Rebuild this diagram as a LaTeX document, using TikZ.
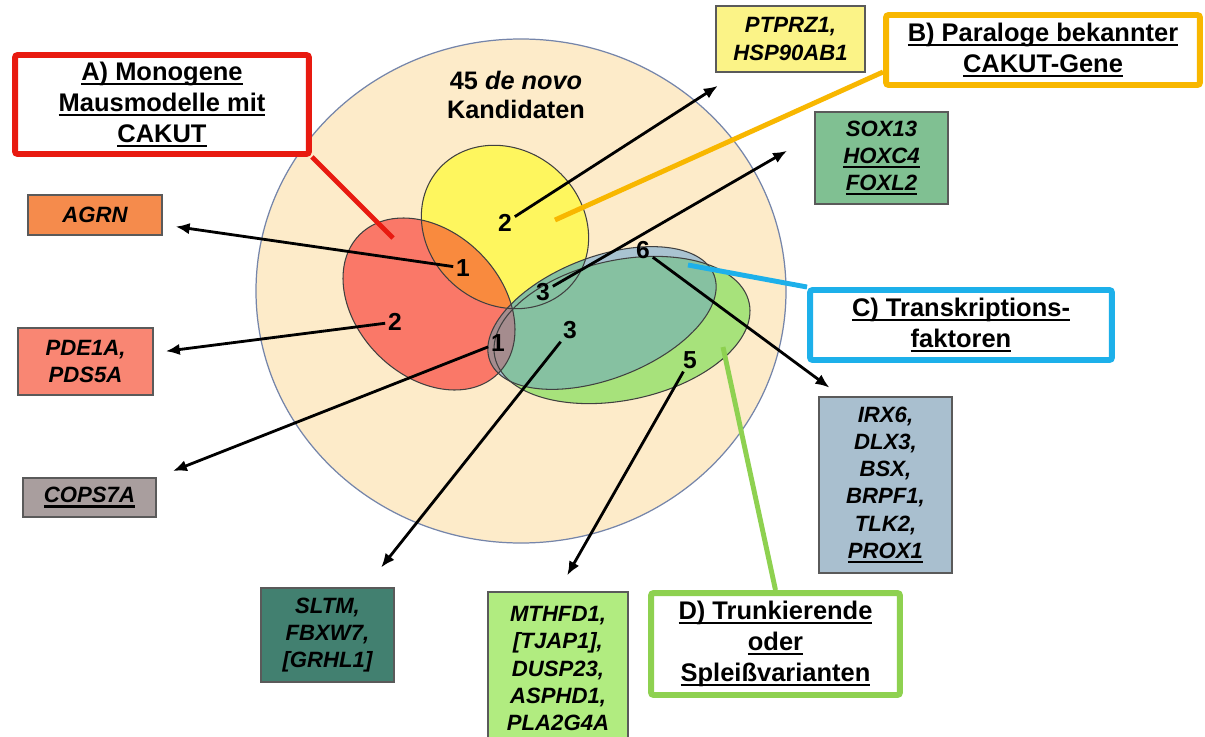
\documentclass[tikz,border=0pt]{standalone}
\usepackage{fontspec}
\setmainfont{Liberation Sans}
\usetikzlibrary{arrows.meta}

\definecolor{beige}{HTML}{FDEBC9}
\definecolor{circline}{HTML}{7585AA}
\definecolor{redell}{HTML}{FA7868}
\definecolor{yellell}{HTML}{FEF65E}
\definecolor{orangeov}{HTML}{F98A3E}
\definecolor{greenell}{HTML}{A7E27B}
\definecolor{blueell}{HTML}{A9C3D1}
\definecolor{tealov}{HTML}{86C1A1}
\definecolor{mauveov}{HTML}{A58C8E}
\definecolor{agrnc}{HTML}{F58B4C}
\definecolor{pdec}{HTML}{F98673}
\definecolor{copsc}{HTML}{A99E9E}
\definecolor{ptprzc}{HTML}{FBF387}
\definecolor{soxc}{HTML}{80C092}
\definecolor{irxc}{HTML}{A9BFCF}
\definecolor{sltmc}{HTML}{428070}
\definecolor{mthfdc}{HTML}{B1EC80}
\definecolor{catred}{HTML}{E81A10}
\definecolor{catorange}{HTML}{F8B700}
\definecolor{catblue}{HTML}{1DB0EA}
\definecolor{catgreen}{HTML}{8ED150}
\definecolor{boxline}{HTML}{5A5A5A}

\newcommand{\ulin}[1]{\setbox0=\hbox{#1}\rlap{\rule[-2.6pt]{\wd0}{1.2pt}}\box0}
\newcommand{\ellred}{[rotate around={-45:(429,304)}] (429,304) ellipse [x radius=98, y radius=72]}
\newcommand{\ellyel}{[rotate around={-40:(505,227)}] (505,227) ellipse [x radius=88, y radius=77]}
\newcommand{\ellgreen}{[rotate around={12:(622,330)}] (622,330) ellipse [x radius=130, y radius=70]}
\newcommand{\ellblue}{[rotate around={21:(602,318)}] (602,318) ellipse [x radius=120, y radius=61]}

\begin{document}
\begin{tikzpicture}[x=0.02cm, y=-0.02cm,
    >={Latex[length=8pt,width=6.5pt]},
    genebox/.style={draw=boxline, line width=0.6pt, font=\fontsize{12.6}{15.4}\selectfont\bfseries\itshape, align=center, inner sep=0pt},
    catbox/.style={fill=white, line width=3.4pt, rounded corners=1.5pt, font=\fontsize{14.5}{17.5}\selectfont\bfseries, align=center, inner sep=0pt},
    num/.style={font=\fontsize{14}{16}\selectfont\bfseries, inner sep=1.5pt},
    arr/.style={->, line width=1.6pt},
    callout/.style={line width=2.8pt},
    ellline/.style={draw=black!75, line width=0.6pt}]
      \useasboundingbox (0,0) rectangle (1205,737);
      \fill [white] (0,0) rectangle (1205,737);
      \filldraw [fill=beige, draw=circline, line width=0.7pt] (521,291) ellipse [x radius=265, y radius=252];
      \fill [yellell] \ellyel;
      \fill [redell] \ellred;
      \begin{scope}
        \clip \ellred;
        \fill [orangeov] \ellyel;
      \end{scope}
      \fill [greenell] \ellgreen;
      \fill [blueell] \ellblue;
      \begin{scope}
        \clip \ellblue;
        \fill [tealov] \ellgreen;
      \end{scope}
      \begin{scope}
        \clip \ellyel;
        \fill [tealov] \ellblue;
      \end{scope}
      \begin{scope}
        \clip \ellred;
        \fill [mauveov] \ellgreen;
        \fill [mauveov] \ellblue;
      \end{scope}
      \draw [ellline] \ellyel;
      \draw [ellline] \ellred;
      \draw [ellline] \ellgreen;
      \draw [ellline] \ellblue;

      \node [font=\fontsize{14.4}{16.5}\selectfont\bfseries, align=center] (title) at (516,95) {45 \textit{de novo}\\Kandidaten};
      \node [num] (n2y) at (505,223) {2};
      \node [num] (n1o) at (463,268) {1};
      \node [num] (n2r) at (395,322) {2};
      \node [num] (n1m) at (498,343) {1};
      \node [num] (n3s) at (543,292) {3};
      \node [num] (n3c) at (570,330) {3};
      \node [num] (n6) at (643,250) {6};
      \node [num] (n5) at (690,360) {5};

      \node [genebox, fill=agrnc, minimum width=2.68cm, minimum height=0.8cm] (agrn) at (95,215) {AGRN};
      \node [genebox, fill=pdec, minimum width=2.7cm, minimum height=1.34cm] (pde) at (85.5,361.5) {PDE1A,\\PDS5A};
      \node [genebox, fill=copsc, minimum width=2.66cm, minimum height=0.78cm] (cops) at (89.5,497.5) {\ulin{COPS7A}};
      \node [genebox, fill=ptprzc, minimum width=2.98cm, minimum height=1.32cm] (ptprz) at (790.5,39) {PTPRZ1,\\HSP90AB1};
      \node [genebox, fill=soxc, minimum width=2.66cm, minimum height=1.84cm] (sox) at (881.5,158) {SOX13\\\ulin{HOXC4}\\\ulin{FOXL2}};
      \node [genebox, fill=irxc, minimum width=2.66cm, minimum height=3.52cm] (irx) at (885.5,485) {IRX6,\\DLX3,\\BSX,\\BRPF1,\\TLK2,\\\ulin{PROX1}};
      \node [genebox, fill=sltmc, minimum width=2.66cm, minimum height=1.88cm] (sltm) at (327.5,635) {SLTM,\\FBXW7,\\{[GRHL1]}};
      \node [genebox, fill=mthfdc, minimum width=2.8cm, minimum height=3.06cm] (mthfd) at (558,668.5) {MTHFD1,\\{[TJAP1],}\\DUSP23,\\ASPHD1,\\PLA2G4A};

      \node [catbox, draw=catred, minimum width=5.88cm, minimum height=1.98cm] (boxA) at (162,104.5) {\ulin{A) Monogene}\\\ulin{Mausmodelle mit}\\\ulin{CAKUT}};
      \node [catbox, draw=catorange, minimum width=6.28cm, minimum height=1.4cm] (boxB) at (1043,50) {\ulin{B) Paraloge bekannter}\\\ulin{CAKUT-Gene}};
      \node [catbox, draw=catblue, minimum width=6.04cm, minimum height=1.4cm] (boxC) at (961,325) {\ulin{C) Transkriptions-}\\\ulin{faktoren}};
      \node [catbox, draw=catgreen, minimum width=4.98cm, minimum height=2.04cm] (boxD) at (775.5,644) {\ulin{D) Trunkierende}\\\ulin{oder}\\\ulin{Spleißvarianten}};

      \coordinate (redend) at (393,238);
      \coordinate (orangeend) at (555,220);
      \coordinate (blueend) at (688,265);
      \coordinate (greenend) at (723,347);
      \draw [callout, catred] (boxA.south east) -- (redend);
      \draw [callout, catorange] ([yshift=-0.44cm]boxB.west) -- (orangeend);
      \draw [callout, catblue] (boxC.north west) -- (blueend);
      \draw [callout, catgreen] (boxD.north) -- (greenend);

      \draw [arr, shorten >=7.5pt] (n1o) -- (agrn);
      \draw [arr, shorten >=7pt] (n2r) -- (pde);
      \draw [arr, shorten >=10pt] (n1m) -- (cops.north east);
      \draw [arr, shorten >=14.5pt] (n3c) -- (sltm);
      \draw [arr, shorten >=10.5pt] (n5) -- (mthfd.north);
      \draw [arr, shorten >=8.5pt] (n6) -- ([xshift=0.46cm]irx.north west);
      \draw [arr, shorten >=18pt] (n3s) -- (sox.161);
      \draw [arr, shorten >=14pt] (n2y) -- (ptprz);
\end{tikzpicture}
\end{document}
